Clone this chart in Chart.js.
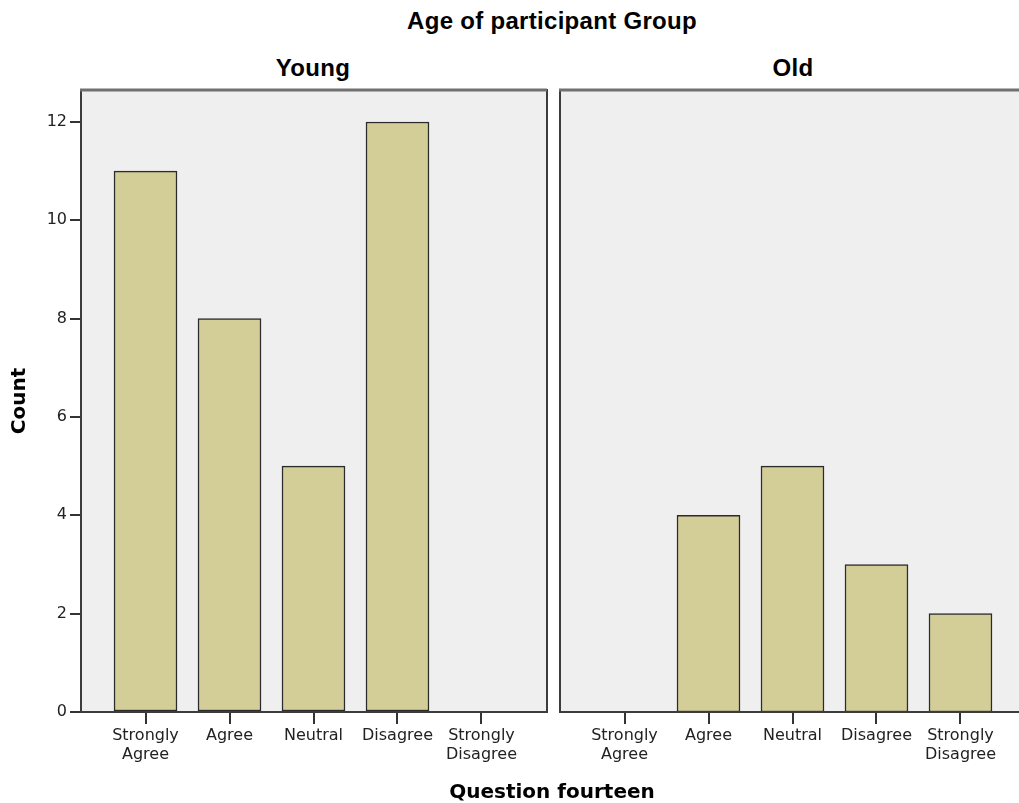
<!DOCTYPE html>
<html>
<head>
<meta charset="utf-8">
<script src="https://cdn.jsdelivr.net/npm/chart.js@4/dist/chart.umd.min.js"></script>
<style>
  html, body { margin: 0; padding: 0; background: #fff; width: 1019px; height: 803px; overflow: hidden; }
  #wrap { position: relative; width: 1019px; height: 803px; overflow: hidden; }
  canvas { position: absolute; top: 0; }
  .txt { position: absolute; white-space: nowrap; color: #000; }
  .arial { font-family: "Liberation Sans", Arial, sans-serif; font-weight: bold; font-size: 24px; line-height: 24px; letter-spacing: 0.3px; }
</style>
</head>
<body>
<div id="wrap">
  <div class="txt arial" id="mainTitle" style="top:9px; left:552px; transform:translateX(-50%);">Age of participant Group</div>
  <div class="txt arial" style="top:56px; left:313px; transform:translateX(-50%);">Young</div>
  <div class="txt arial" style="top:56px; left:793px; transform:translateX(-50%);">Old</div>
  <canvas id="chartYoung" width="553" height="803" style="left:0px;"></canvas>
  <canvas id="chartOld" width="470" height="803" style="left:559px;"></canvas>
  <div class="txt" style="top:781px; left:552px; transform:translateX(-50%); font-family:'DejaVu Sans'; font-weight:bold; font-size:20px; line-height:20px;">Question fourteen</div>
</div>
<script>
// counts
var categories = ["Strongly Agree", "Agree", "Neutral", "Disagree", "Strongly Disagree"];
var youngCounts = [11, 8, 5, 12, 0];
var oldCounts = [0, 4, 5, 3, 2];
var yTicks = [0, 2, 4, 6, 8, 10, 12];

var tickFont = { family: "DejaVu Sans", size: 16, lineHeight: 1.15 };

// grey panel + frame like SPSS
var panelPlugin = {
  id: "panel",
  beforeDraw: function(chart) {
    var a = chart.chartArea, ctx = chart.ctx;
    ctx.save();
    ctx.fillStyle = "#efefef";
    ctx.fillRect(a.left, a.top, a.right - a.left, a.bottom - a.top);
    ctx.restore();
  },
  afterDraw: function(chart) {
    var a = chart.chartArea, ctx = chart.ctx;
    ctx.save();
    ctx.strokeStyle = "#3c3c3c";
    ctx.lineWidth = 2;
    ctx.strokeRect(a.left + 1, a.top, a.right - a.left - 1, a.bottom - a.top);
    ctx.strokeStyle = "#707070";
    ctx.lineWidth = 3;
    ctx.beginPath();
    ctx.moveTo(a.left, a.top);
    ctx.lineTo(a.right, a.top);
    ctx.stroke();
    ctx.restore();
  }
};

function makeChart(id, counts, showY, pad) {
  var pts = counts.map(function(c, i) { return { x: i, y: c }; });
  return new Chart(id, {
    type: "bar",
    data: {
      datasets: [{
        data: pts,
        backgroundColor: "#d3ce98",
        borderColor: "#2b2b2b",
        borderWidth: 1.5,
        borderSkipped: false,
        barThickness: 63
      }]
    },
    options: {
      responsive: false,
      animation: false,
      layout: { padding: pad },
      plugins: { legend: { display: false }, tooltip: { enabled: false }, title: { display: false } },
      scales: {
        x: {
          type: "linear",
          min: -0.78,
          max: 4.78,
          offset: false,
          afterBuildTicks: function(s) { s.ticks = categories.map(function(c, i) { return { value: i }; }); },
          afterFit: function(s) { s.height = 91; },
          grid: { offset: false, drawOnChartArea: false, drawTicks: true, tickLength: 12, color: "#333", lineWidth: 2 },
          border: { display: false },
          ticks: {
            autoSkip: false,
            maxRotation: 0,
            padding: 3,
            color: "#222",
            font: tickFont,
            callback: function(v) { var c = categories[v]; return c ? c.split(" ") : ""; }
          }
        },
        y: {
          display: showY,
          min: 0,
          max: 12.65,
          afterBuildTicks: function(s) { s.ticks = yTicks.map(function(v) { return { value: v }; }); },
          afterFit: function(s) { s.width = showY ? 80 : 0; },
          grid: { drawOnChartArea: false, drawTicks: true, tickLength: 10, color: "#333", lineWidth: 2 },
          border: { display: false },
          ticks: { padding: 3, color: "#222", font: tickFont },
          title: {
            display: showY,
            text: "Count",
            color: "#000",
            font: { family: "DejaVu Sans", size: 20, weight: "bold" },
            padding: { top: 8, bottom: 0 }
          }
        }
      }
    },
    plugins: [panelPlugin]
  });
}

makeChart("chartYoung", youngCounts, true, { left: 0, right: 6, top: 90, bottom: 0 });
makeChart("chartOld", oldCounts, false, { left: 0, right: 3, top: 90, bottom: 0 });
</script>
</body>
</html>
